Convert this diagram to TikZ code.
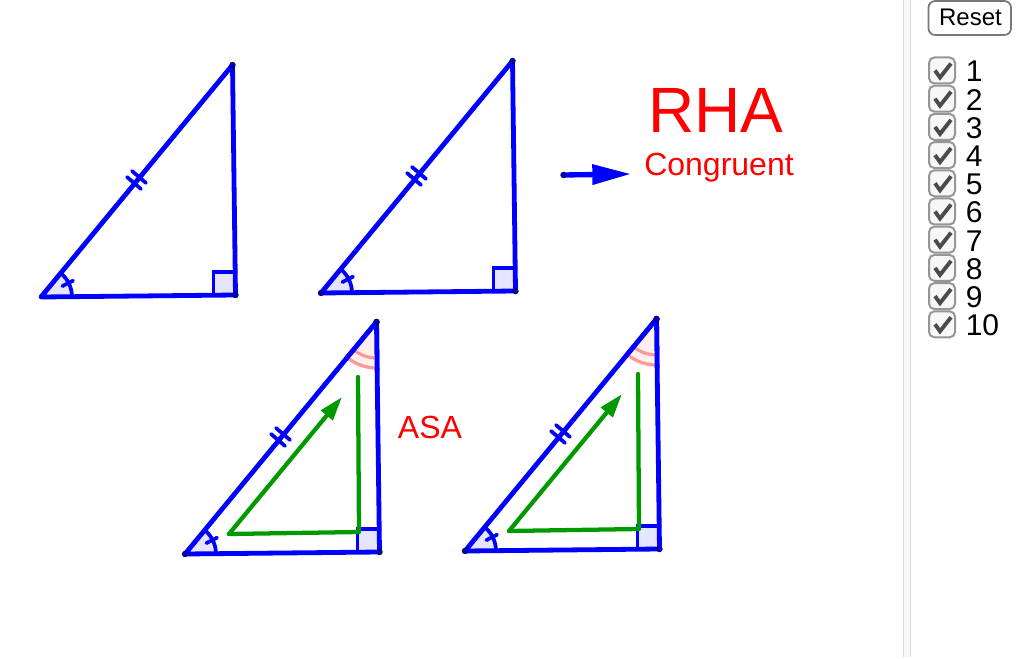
\documentclass[tikz,border=0pt]{standalone}
\usepackage{fontspec}
\setmainfont{Liberation Sans}
\usetikzlibrary{arrows.meta, calc}
\definecolor{triblue}{RGB}{0,0,255}
\definecolor{angfill}{RGB}{229,229,255}
\definecolor{anggreen}{RGB}{0,153,0}
\definecolor{angpink}{RGB}{255,153,153}
\definecolor{pinkfill}{RGB}{255,240,240}
\definecolor{boxgray}{RGB}{150,150,150}
\definecolor{checkgray}{RGB}{75,75,75}
\definecolor{railgray}{RGB}{248,248,248}
\definecolor{railedge}{RGB}{220,220,220}
\tikzset{
    triside/.style={draw=triblue, line width=3.6pt, line join=round, line cap=round},
    tickline/.style={draw=triblue, line width=2.8pt, line cap=round},
    greenline/.style={draw=anggreen, line width=3.2pt, line cap=round, line join=round},
    pinkarc/.style={draw=angpink, line width=2.4pt},
    redtext/.style={text=red, inner sep=0pt},
    numtext/.style={inner sep=0pt, anchor=base west, font=\fontsize{22.5}{22.5}\selectfont},
}
\newcommand{\vertexdot}[1]{\draw[draw=black!70!blue, fill=triblue!80!black, line width=0.5pt] (#1) circle (2.1pt);}

\begin{document}
\begin{tikzpicture}[x=0.75pt, y=0.75pt]
    \useasboundingbox (0,0) rectangle (1020,-659);
    \foreach \dx/\dy in {0/0, 280/4, 144/-257, 424/-254} {
        \begin{scope}[shift={(\dx,\dy)}]
            \coordinate (A) at (41,-297);
            \coordinate (B) at (235.5,-295);
            \coordinate (C) at (232.5,-65);
            \fill[angfill] (A) -- ++(0.6:31) arc (0.6:50.5:31) -- cycle;
            \fill[angfill] (B) rectangle ++(-22,23);
            \draw[tickline] (A) ++(0.6:31) arc (0.6:50.5:31);
            \draw[tickline] (A) ++(27:24) -- ++(27:12);
            \draw[tickline] (B) ++(-22,0) -- ++(0,23) -- ++(22,0);
            \draw[tickline] (127,-177) -- (141,-189);
            \draw[tickline] (132,-171) -- (146,-183);
            \draw[triside] (A) -- (B) -- (C) -- cycle;
            \vertexdot{B}
            \vertexdot{C}
        \end{scope}
    }
    \foreach \dx/\dy in {280/4, 144/-257, 424/-254} {
        \begin{scope}[shift={(\dx,\dy)}]
            \coordinate (A) at (41,-297);
            \vertexdot{A}
        \end{scope}
    }
    \foreach \dx/\dy in {144/-257, 424/-254} {
        \begin{scope}[shift={(\dx,\dy)}]
            \coordinate (C) at (232.5,-65);
            \coordinate (gstart) at (85,-277);
            \coordinate (gcorner) at (215,-275);
            \coordinate (gtop) at (214,-120);
            \coordinate (gtip) at (198,-140);
            \fill[pinkfill] (C) -- ++(230.5:46) arc (230.5:270.7:46) -- cycle;
            \draw[pinkarc] (C) ++(230.5:36) arc (230.5:270.7:36);
            \draw[pinkarc] (C) ++(230.5:46) arc (230.5:270.7:46);
            \draw[triside] (C) -- ++(230.5:48);
            \draw[triside] (C) -- ++(270.7:48);
            \vertexdot{C}
            \draw[greenline] (gtop) -- (gcorner) -- (gstart);
            \draw[greenline, -{Triangle[length=18pt, width=11pt]}] (gstart) -- (gtip);
        \end{scope}
    }

    \coordinate (arrowstart) at (563.5,-175);
    \coordinate (arrowtip) at (631,-174);
    \draw[draw=triblue, line width=4pt, -{Triangle[length=29pt, width=14.5pt]}] (arrowstart) -- (arrowtip);
    \vertexdot{arrowstart}

    \node[redtext, font=\fontsize{48}{48}\selectfont] (rha) at (716,-110) {RHA};
    \node[redtext, font=\fontsize{24}{24}\selectfont] (congruent) at (719,-168) {Congruent};
    \node[redtext, font=\fontsize{24}{24}\selectfont] (asa) at (430,-427) {ASA};

    \fill[railgray] (903.5,0) rectangle (910.5,-657);
    \draw[line width=0.8pt, draw=railedge] (903.5,0) -- (903.5,-657);
    \draw[line width=0.8pt, draw=railedge] (910.5,0) -- (910.5,-657);
    \draw[line width=1.3pt, draw=boxgray!80!black, fill=white, rounded corners=5pt] (928.5,-1) rectangle (1011,-35);
    \node[inner sep=0pt, font=\fontsize{18}{18}\selectfont] (reset) at (970.5,-17) {Reset};
    \foreach \n in {1,...,10} {
        \pgfmathsetmacro{\rowy}{-70.5-28.2*(\n-1)}
        \draw[line width=1.5pt, draw=boxgray, fill=black!3, rounded corners=4pt] (929,\rowy+13) rectangle (955,\rowy-13);
        \draw[draw=checkgray, line width=2.9pt] (935,\rowy) -- (940,\rowy-7) -- (951,\rowy+7);
        \node[numtext] (num\n) at (965.5,\rowy-11.5) {\n};
    }
\end{tikzpicture}
\end{document}
